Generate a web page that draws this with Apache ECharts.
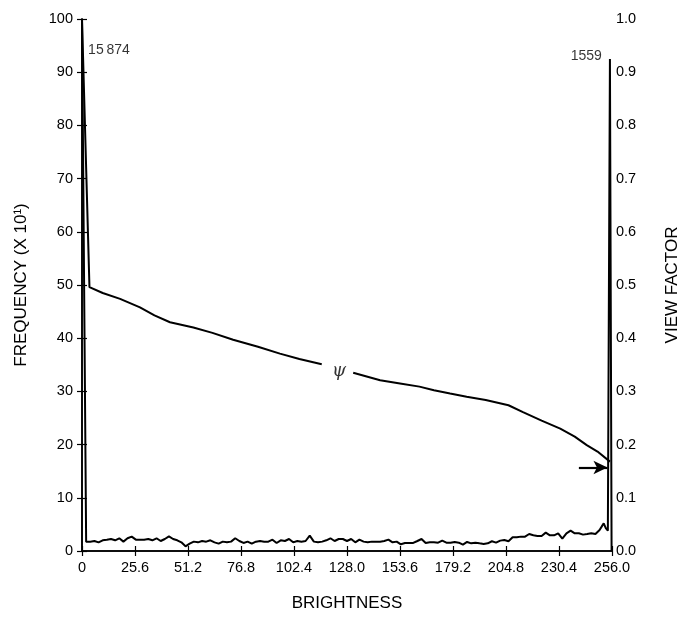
<!DOCTYPE html>
<html>
<head>
<meta charset="utf-8">
<script src="https://cdn.jsdelivr.net/npm/echarts@6/dist/echarts.min.js"></script>
<style>
  html, body { margin: 0; padding: 0; background: #fff; }
  #chart { width: 680px; height: 620px; }
</style>
</head>
<body>
<div id="chart"></div>
<script>
// histogram (left axis, x10^1) - spike at 0 is off scale, clipped at top
const headBrightness = [0];
const headFrequency = [100];
// noisy floor, brightness 2, 4, ... 250
const noiseStart = 2;
const noiseStep = 2;
const noiseFrequency = [
    1.76, 1.76, 1.88, 1.63, 2.01, 2.13, 2.26, 2.01, 2.39, 1.76,
    2.39, 2.70, 2.13, 2.13, 2.13, 2.26, 2.01, 2.39, 1.88, 2.26,
    2.76, 2.26, 2.01, 1.63, 0.88, 1.38, 1.76, 1.63, 1.88, 1.76,
    2.01, 1.63, 1.38, 1.76, 1.63, 1.76, 2.39, 1.88, 1.51, 1.76,
    1.38, 1.76, 1.88, 1.76, 1.76, 2.13, 1.51, 2.01, 1.88, 2.26,
    1.63, 1.88, 1.76, 1.88, 2.89, 1.76, 1.63, 1.76, 2.01, 2.39,
    1.88, 2.26, 2.26, 1.88, 2.26, 1.63, 2.13, 1.76, 1.63, 1.76,
    1.76, 1.76, 1.88, 2.13, 1.63, 1.76, 1.26, 1.51, 1.51, 1.51,
    1.88, 2.26, 1.51, 1.63, 1.63, 1.57, 1.95, 1.57, 1.57, 1.70,
    1.57, 1.19, 1.70, 1.44, 1.57, 1.44, 1.32, 1.44, 1.83, 1.57,
    1.95, 2.07, 1.83, 2.58, 2.58, 2.70, 2.70, 3.20, 2.95, 2.83,
    2.83, 3.45, 2.95, 2.95, 3.33, 2.33, 3.33, 3.83, 3.33, 3.33,
    3.08, 3.20, 3.33, 3.20, 3.96
];
const tailBrightness = [251, 252, 253, 254, 254.6, 255, 255.8];
const tailFrequency = [4.58, 5.21, 4.30, 3.83, 3.80, 92.5, 0];

// view factor psi (right axis); null = gap where the psi symbol sits
const psiBrightness = [0, 3.6, 10, 18.4, 28, 35, 42.5, 53.8, 63, 73, 85, 95.6, 105, 115.8, null,
    131, 144, 153.6, 163, 170, 177.8, 185.8, 195, 206, 213, 222, 231, 238, 243.8, 249, 255];
const psiValue = [1.0, 0.496, 0.485, 0.474, 0.458, 0.443, 0.430, 0.420, 0.410, 0.397, 0.384, 0.371, 0.361, 0.351, null,
    0.335, 0.321, 0.315, 0.309, 0.302, 0.296, 0.290, 0.284, 0.274, 0.261, 0.245, 0.230, 0.215, 0.199, 0.187, 0.168];
const psiLabelAt = [124.2, 0.338];

// off-scale peak counts
const peakText = ['15\u2009874', '1559'];
const peakAt = [[1.5, 94.2], [253, 93]];

// arrow marking the view factor at the top end
const arrowFrom = [240, 0.157];
const arrowTo = [253.8, 0.157];

const xTicks = { min: 0, max: 256, interval: 25.6 };
const leftTicks = { min: 0, max: 100, interval: 10 };
const rightTicks = { min: 0, max: 1, interval: 0.1 };

const FONT = 'Liberation Sans, Arial, sans-serif';
const INK = '#000';

function buildHistogram() {
    const pts = headBrightness.map((b, i) => [b, headFrequency[i]]);
    noiseFrequency.forEach((f, i) => pts.push([noiseStart + i * noiseStep, f]));
    tailBrightness.forEach((b, i) => pts.push([b, tailFrequency[i]]));
    return pts;
}

function buildPsi() {
    return psiBrightness.map((b, i) => b === null ? [null, null] : [b, psiValue[i]]);
}

const chart = echarts.init(document.getElementById('chart'));

const axisCommon = {
    axisLine: { show: true, lineStyle: { color: INK, width: 1.6 } },
    axisTick: { show: true, inside: true, length: 5, lineStyle: { color: INK, width: 1.2 } },
    splitLine: { show: false },
    axisLabel: { color: INK, fontFamily: FONT, fontSize: 14.5 }
};

const titleStyle = { color: INK, fontFamily: FONT, fontSize: 17 };

const option = {
    animation: false,
    backgroundColor: '#fff',
    grid: { left: 82, right: 68, top: 19, bottom: 69, containLabel: false, outerBoundsMode: 'none' },
    xAxis: [{
        type: 'value',
        ...xTicks,
        name: 'BRIGHTNESS',
        nameLocation: 'middle',
        nameGap: 44,
        nameTextStyle: titleStyle,
        ...axisCommon,
        axisLabel: {
            ...axisCommon.axisLabel,
            margin: 9,
            formatter: v => v === 0 ? '0' : v.toFixed(1)
        }
    }, {
        type: 'value',
        position: 'top',
        ...xTicks,
        ...axisCommon,
        axisLabel: { show: false }
    }],
    yAxis: [{
        type: 'value',
        position: 'left',
        ...leftTicks,
        name: 'FREQUENCY (X 10\u00B9)',
        nameLocation: 'middle',
        nameGap: 52,
        nameTextStyle: titleStyle,
        ...axisCommon,
        axisLabel: { ...axisCommon.axisLabel, margin: 9 }
    }, {
        type: 'value',
        position: 'right',
        ...rightTicks,
        name: 'VIEW FACTOR',
        nameLocation: 'middle',
        nameGap: 52,
        nameTextStyle: titleStyle,
        ...axisCommon,
        axisLabel: {
            ...axisCommon.axisLabel,
            margin: 4,
            formatter: v => v.toFixed(1)
        }
    }],
    series: [{
        name: 'frequency',
        type: 'line',
        xAxisIndex: 0,
        yAxisIndex: 0,
        data: buildHistogram(),
        showSymbol: false,
        symbol: 'none',
        clip: true,
        lineStyle: { color: INK, width: 2 }
    }, {
        name: 'psi',
        type: 'line',
        xAxisIndex: 0,
        yAxisIndex: 1,
        data: buildPsi(),
        showSymbol: false,
        symbol: 'none',
        connectNulls: false,
        lineStyle: { color: INK, width: 2 },
        markLine: {
            silent: true,
            symbol: ['none', 'arrow'],
            symbolSize: [10, 14],
            label: { show: false },
            lineStyle: { color: INK, width: 2.2, type: 'solid' },
            data: [[{ coord: arrowFrom }, { coord: arrowTo }]]
        }
    }, {
        name: 'psiLabel',
        type: 'scatter',
        xAxisIndex: 0,
        yAxisIndex: 1,
        symbolSize: 0,
        data: [psiLabelAt],
        label: {
            show: true,
            position: 'inside',
            formatter: '\u03C8',
            color: INK,
            fontFamily: 'DejaVu Serif, serif',
            fontStyle: 'italic',
            fontSize: 18
        }
    }, {
        name: 'peaks',
        type: 'scatter',
        xAxisIndex: 0,
        yAxisIndex: 0,
        symbolSize: 0,
        data: peakAt.map((p, i) => ({
            value: p,
            label: {
                show: true,
                position: i === 0 ? 'right' : 'left',
                distance: i === 0 ? 3 : 4,
                formatter: peakText[i],
                color: INK,
                fontFamily: FONT,
                fontSize: 14
            }
        }))
    }]
};

chart.setOption(option);
</script>
</body>
</html>
